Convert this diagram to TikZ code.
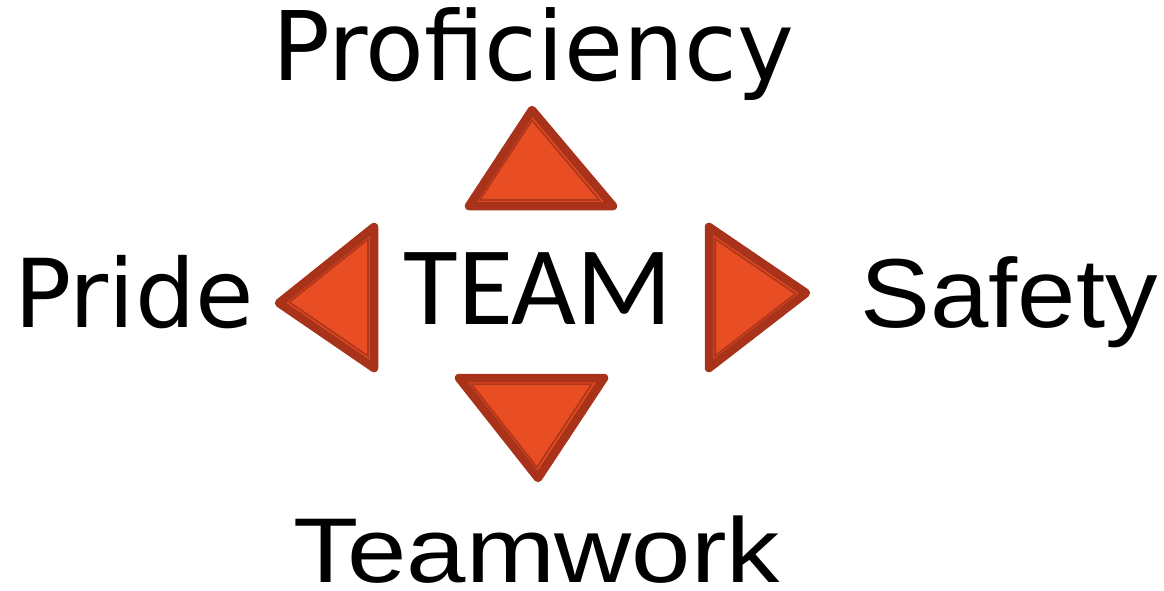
\documentclass[tikz,border=0pt]{standalone}
\usepackage{fontspec}
\usepackage{graphicx}
\newfontfamily\dvfont{DejaVu Sans}
\newfontfamily\carlfont{Carlito}
\newfontfamily\arfont{Liberation Sans}
\definecolor{trifill}{HTML}{E84D23}
\definecolor{triedge}{HTML}{A8331A}
\definecolor{triinner}{HTML}{B03719}
\begin{document}
\begin{tikzpicture}[x=1pt,y=-1pt,
  tri/.style={fill=trifill,draw=triedge,line width=8.5pt,line join=round},
  triin/.style={draw=triinner,line width=1.8pt,line join=miter},
  lbl/.style={inner sep=0pt,anchor=base}]
\useasboundingbox (0,0) rectangle (1164,590);
% up
\draw[tri] (532,110) -- (613,206) -- (469,206) -- cycle;
\draw[triin, scale around={0.83:(532,170)}] (532,110) -- (613,206) -- (469,206) -- cycle;
% right
\draw[tri] (709,227) -- (806,293) -- (709,368) -- cycle;
\draw[triin, scale around={0.83:(745,297)}] (709,227) -- (806,293) -- (709,368) -- cycle;
% left
\draw[tri] (374,227) -- (279,303) -- (374,368) -- cycle;
\draw[triin, scale around={0.83:(339,298)}] (374,227) -- (279,303) -- (374,368) -- cycle;
% down
\draw[tri] (459,378) -- (604,378) -- (538,478) -- cycle;
\draw[triin, scale around={0.83:(532,415)}] (459,378) -- (604,378) -- (538,478) -- cycle;
% labels
\node[lbl] (prof) at (533,80) {\fontsize{96}{96}\dvfont Proficiency};
\node[lbl] (pride) at (134,327) {\fontsize{95}{95}\dvfont Pride};
\node[lbl] (team) at (538,324) {\fontsize{112}{112}\carlfont TEAM};
\node[lbl] (safety) at (1009,327) {\scalebox{1.07}[1]{\fontsize{98}{98}\arfont Safety}};
\node[lbl] (teamwork) at (537,582) {\scalebox{1.16}[1]{\fontsize{92}{92}\arfont Teamwork}};
\end{tikzpicture}
\end{document}
